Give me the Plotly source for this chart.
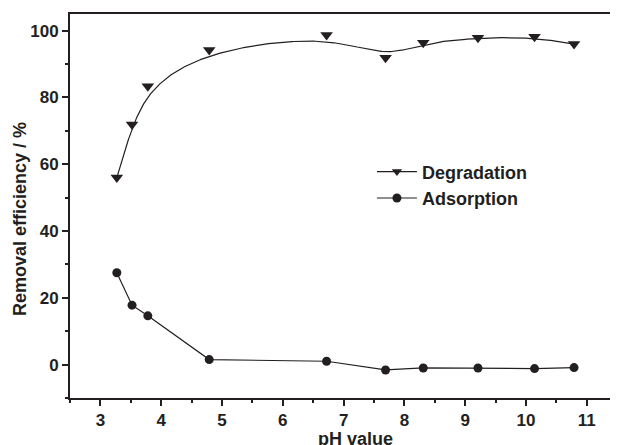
import numpy as np
import plotly.graph_objects as go

ph = [3.27, 3.52, 3.78, 4.79, 6.72, 7.69, 8.31, 9.21, 10.14, 10.79]
degradation = [56.0, 71.9, 83.4, 94.2, 98.7, 91.9, 96.4, 97.9, 98.2, 96.0]
adsorption = [27.5, 17.8, 14.6, 1.5, 1.0, -1.6, -1.0, -1.0, -1.2, -0.9]

x_ticks = [3, 4, 5, 6, 7, 8, 9, 10, 11]
y_ticks = [0, 20, 40, 60, 80, 100]


def bspline(px, py, degree=3, samples=400):
    """Clamped B-spline with the data points as control points (Origin style)."""
    n = len(px)
    k = degree
    inner = list(range(1, n - k))
    knots = np.array([0] * (k + 1) + inner + [n - k] * (k + 1), dtype=float)
    ts = np.linspace(0, n - k, samples)

    def basis(i, p, t):
        if p == 0:
            if knots[i] <= t < knots[i + 1]:
                return 1.0
            if t == knots[-1] and knots[i] < t <= knots[i + 1]:
                return 1.0
            return 0.0
        a = 0.0
        d1 = knots[i + p] - knots[i]
        if d1 > 0:
            a = (t - knots[i]) / d1 * basis(i, p - 1, t)
        b = 0.0
        d2 = knots[i + p + 1] - knots[i + 1]
        if d2 > 0:
            b = (knots[i + p + 1] - t) / d2 * basis(i + 1, p - 1, t)
        return a + b

    cx, cy = [], []
    for t in ts:
        w = np.array([basis(i, k, t) for i in range(n)])
        cx.append(float(np.dot(w, px)))
        cy.append(float(np.dot(w, py)))
    return cx, cy


curve_x, curve_y = bspline(np.array(ph), np.array(degradation))

FONT = "Liberation Sans, Arial, sans-serif"
INK = "#231f20"

fig = go.Figure()
fig.add_trace(go.Scatter(x=curve_x, y=curve_y, mode="lines",
                         line=dict(color=INK, width=1.2), showlegend=False,
                         hoverinfo="skip"))
fig.add_trace(go.Scatter(x=ph, y=degradation, mode="markers",
                         marker=dict(symbol="triangle-down", size=11, color=INK),
                         showlegend=False))
fig.add_trace(go.Scatter(x=[None], y=[None], mode="lines+markers", name="<b>Degradation</b>",
                         line=dict(color=INK, width=1.2),
                         marker=dict(symbol="triangle-down", size=9, color=INK)))
fig.add_trace(go.Scatter(x=ph, y=adsorption, mode="lines+markers", name="<b>Adsorption</b>",
                         line=dict(color=INK, width=1.2),
                         marker=dict(symbol="circle", size=9, color=INK)))

# page body has an 8px margin, so the figure is drawn 8px smaller and offset
fig.update_layout(
    width=610, height=437,
    margin=dict(l=62, r=0, t=6, b=47),
    paper_bgcolor="white", plot_bgcolor="white",
    font=dict(family=FONT, color=INK, size=17),
    showlegend=True,
    legend=dict(x=0.553, y=0.637, xanchor="left", yanchor="top",
                bgcolor="rgba(0,0,0,0)", font=dict(size=18, family=FONT),
                itemwidth=40, tracegroupgap=0),
    xaxis=dict(range=[2.5, 11.48], tickvals=x_ticks,
               ticktext=[f"<b>{v}</b>" for v in x_ticks],
               ticks="outside", ticklen=6,
               tickwidth=1.5, tickcolor=INK, showline=True, linewidth=1.8,
               linecolor=INK, mirror=True, showgrid=False, zeroline=False,
               tickfont=dict(size=17, family=FONT),
               minor=dict(dtick=0.5, tick0=2.5, ticks="outside", ticklen=3,
                          tickwidth=1.5, tickcolor=INK, showgrid=False)),
    yaxis=dict(range=[-10, 105], tickvals=y_ticks,
               ticktext=[f"<b>{v}</b>" for v in y_ticks],
               ticks="outside", ticklen=6,
               tickwidth=1.5, tickcolor=INK, showline=True, linewidth=1.8,
               linecolor=INK, mirror=True, showgrid=False, zeroline=False,
               tickfont=dict(size=17, family=FONT),
               minor=dict(dtick=10, tick0=-10, ticks="outside", ticklen=3,
                          tickwidth=1.5, tickcolor=INK, showgrid=False)),
    annotations=[
        dict(text="<b>pH value</b>", xref="paper", yref="paper", x=0.522, y=0, yshift=-41,
             xanchor="center", yanchor="middle", showarrow=False,
             font=dict(size=18, family=FONT, color=INK)),
        dict(text="<b>Removal efficiency / %</b>", xref="paper", yref="paper", x=0, xshift=-50,
             y=0.466, xanchor="center", yanchor="middle", showarrow=False, textangle=-90,
             font=dict(size=18, family=FONT, color=INK)),
    ],
)

fig.write_html("out.html")
